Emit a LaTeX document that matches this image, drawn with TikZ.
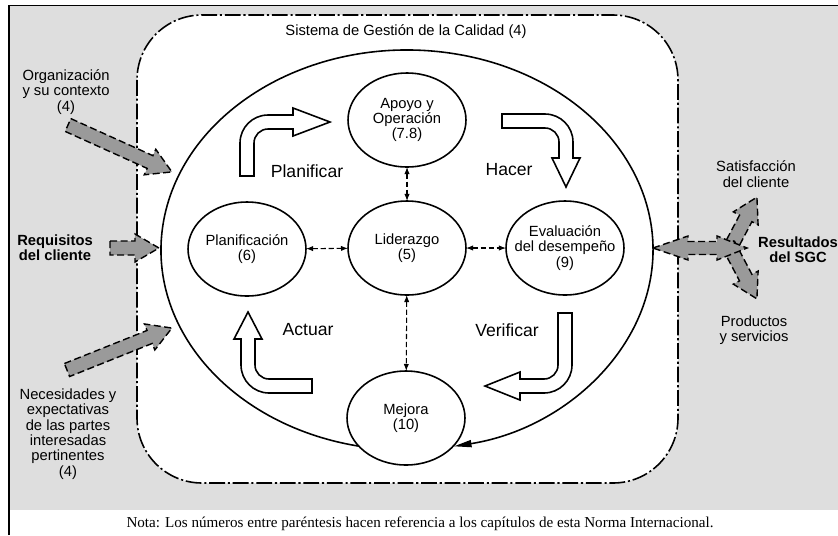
\documentclass[tikz,border=0pt]{standalone}
\usepackage{fontspec}
\setmainfont{Liberation Sans}
\newfontfamily\notefont{Liberation Serif}
\usetikzlibrary{arrows.meta,shapes.geometric}

\definecolor{panelgray}{HTML}{DEDEDE}
\definecolor{arrowgray}{HTML}{9A9A9A}

\tikzset{
  txt/.style={font=\fontsize{8.4}{8.7}\selectfont, align=center, inner sep=0pt},
  boldtxt/.style={txt, font=\fontsize{8.4}{8.7}\selectfont\bfseries},
  phase/.style={txt, font=\fontsize{10}{10}\selectfont},
  stage/.style={ellipse, draw, line width=0.9pt, fill=white, inner sep=0pt, outer sep=0pt,
    minimum width=2.36cm, minimum height=1.88cm},
  sysline/.style={line width=0.9pt, dash pattern=on 9pt off 1.6pt on 1.2pt off 1.6pt},
  cycleline/.style={line width=0.9pt, -{Triangle[length=10pt,width=4pt]}},
  link/.style={line width=0.6pt, dash pattern=on 3pt off 1.6pt,
    {Latex[length=4pt,width=3pt]}-{Latex[length=4pt,width=3pt]}},
  bentarrow/.style={draw, line width=0.9pt, fill=white},
  grayarrow/.style={draw, fill=arrowgray, line width=0.8pt, dash pattern=on 4pt off 2pt},
  % white hollow arrow: shaft rises from the tail, bends right, head points right
  pics/bent/.style n args={3}{code={
    \path[bentarrow] (-7,0) [rounded corners=0.56cm] -- (-7,-#1-7) [sharp corners]
      -- (#2,-#1-7) -- (#2,-#1-14) -- (#2+#3,-#1) -- (#2,-#1+14) -- (#2,-#1+7)
      [rounded corners=0.28cm] -- (7,-#1+7) [sharp corners] -- (7,0) -- cycle;
  }},
  % grey straight arrow of given length, tail at the origin, pointing along +x
  pics/garrow/.style={code={
    \path[grayarrow] (0,-7) -- (#1-24,-7) -- (#1-24,-14) -- (#1,0) -- (#1-24,14)
      -- (#1-24,7) -- (0,7) -- cycle;
  }}
}

\begin{document}
\begin{tikzpicture}[x=0.02cm, y=-0.02cm]
\useasboundingbox (0,0) rectangle (838,535);

% page panel and frame
\fill[panelgray] (9,6) rectangle (838,510);
\draw[line width=1.1pt] (9,535) -- (9,5.5) -- (838,5.5);

% quality management system boundary
\path[sysline, draw, fill=white, rounded corners=1.3cm] (137,15) rectangle (678,483);
\node[txt] (title) at (406,32) {Sistema de Gestión de la Calidad (4)};

% PDCA cycle around the processes
\draw[cycleline] (407,250) ++(100:246 and 200)
  arc[start angle=100, end angle=439, x radius=246, y radius=200];

% processes
\node[stage] (apoyo) at (407,120) {};
\node[txt] at (apoyo.center) {Apoyo y\\Operación\\(7.8)};
\node[stage] (lid) at (407,248) {};
\node[txt] at (lid.center) {Liderazgo\\(5)};
\node[stage] (plan) at (247,249) {};
\node[txt] at (plan.center) {Planificación\\(6)};
\node[stage] (eval) at (565,248) {};
\node[txt] at (eval.center) {Evaluación\\del desempeño\\(9)};
\node[stage] (mejora) at (406,418) {};
\node[txt] at (mejora.center) {Mejora\\(10)};

% links to leadership
\draw[link] (plan) -- (lid);
\draw[link] (lid) -- (eval);
\draw[link] (apoyo) -- (lid);
\draw[link] (lid) -- (mejora);

% PDCA arrows and labels
\pic at (247,176) {bent={54}{46}{37}};
\pic[rotate=-90] at (502,121) {bent={64}{37}{29}};
\pic[rotate=180] at (565,313) {bent={73}{45}{35}};
\pic[rotate=90] at (312,386) {bent={64}{47}{27}};
\node[phase] (lplan) at (307,171) {Planificar};
\node[phase] (lhacer) at (509,170) {Hacer};
\node[phase] (lact) at (308,330) {Actuar};
\node[phase] (lver) at (507,330) {Verificar};

% inputs
\pic[rotate=-24.3] at (68,125) {garrow=114};
\pic at (110,248) {garrow=49};
\pic[rotate=21.8] at (67,370) {garrow=113};
\node[txt] (org) at (66,92) {Organización\\y su contexto\\(4)};
\node[boldtxt] (req) at (55,248) {Requisitos\\del cliente};
\node[txt] (nec) at (68,434) {Necesidades y\\expectativas\\de las partes\\interesadas\\pertinentes\\(4)};

% outputs
\pic[rotate=62.2] at (728,252) {garrow=62};
\pic[rotate=-62.2] at (728,244) {garrow=62};
\path[grayarrow] (653,248) -- (688,236) -- (688,241.5) -- (717,241.5) -- (717,236)
  -- (747,248) -- (717,260) -- (717,254.5) -- (688,254.5) -- (688,260) -- cycle;
\node[txt] (sat) at (756,174) {Satisfacción\\del cliente};
\node[boldtxt] (res) at (798,250) {Resultados\\del SGC};
\node[txt] (prod) at (754,330) {Productos\\y servicios};

% note
\node[font=\notefont\fontsize{8.6}{10}\selectfont, inner sep=0pt] (nota) at (420,524)
  {Nota: Los números entre paréntesis hacen referencia a los capítulos de esta Norma Internacional.};
\end{tikzpicture}
\end{document}
